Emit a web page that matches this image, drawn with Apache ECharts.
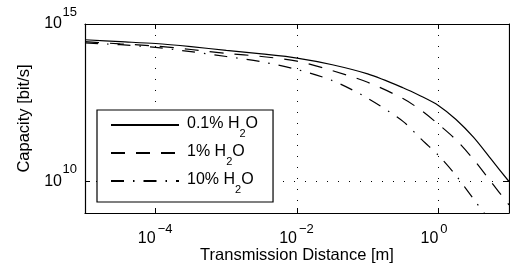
<!DOCTYPE html>
<html>
<head>
<meta charset="utf-8">
<title>Capacity vs transmission distance</title>
<script src="https://cdn.jsdelivr.net/npm/echarts@6/dist/echarts.min.js"></script>
<style>
  html, body { margin: 0; padding: 0; background: #fff; }
  #chart { width: 510px; height: 278px; }
</style>
</head>
<body>
<div id="chart"></div>
<script>
// transmission distance [m]
var distance = [1e-5, 3.16e-5, 1e-4, 3.16e-4, 1e-3, 3.16e-3, 1e-2, 3.16e-2, 1e-1, 3.16e-1, 0.562, 1, 1.78, 3.16, 5.62, 10];

// capacity [bit/s] for the three water vapour levels
var cap01 = [3.16e14, 2.75e14, 2.4e14, 1.91e14, 1.45e14, 1.12e14, 8.3e13, 5.1e13, 2.6e13, 9.5e12, 5.2e12, 2.6e12, 9.3e11, 2.5e11, 5.0e10, 1.0e10];
var cap1 = [2.75e14, 2.34e14, 2.0e14, 1.55e14, 1.17e14, 9.3e13, 6.6e13, 3.3e13, 1.41e13, 4.3e12, 1.86e12, 6.6e11, 2.1e11, 5.0e10, 9.5e9, 1.8e9];
var cap10 = [2.5e14, 2.2e14, 1.8e14, 1.32e14, 9.3e13, 6.3e13, 3.6e13, 1.6e13, 4.4e12, 8.1e11, 2.3e11, 6.8e10, 1.55e10, 2.75e9, 5.0e8, null];

var seriesNames = ['0.1%', '1%', '10%'];
var xTicks = [1e-4, 1e-2, 1];
var yTicks = [1e10, 1e15];

var FONT = 'Liberation Sans';

function pairs(ys) {
    var out = [];
    for (var i = 0; i < distance.length; i++) {
        out.push([distance[i], ys[i]]);
    }
    return out;
}

// tick labels are 10^n: the base and the exponent go on two stacked axes
function baseLabel() {
    return '10';
}
function expLabel(v) {
    var e = Math.round(Math.log10(v));
    return e < 0 ? '\u2212' + (-e) : '' + e;
}

var black = { color: '#000', width: 1.2 };
var dotted = { color: '#000', width: 1, type: [1, 10] };
var nameStyle = { fontSize: 16.5, fontFamily: FONT, color: '#000' };

// y max a hair above 1e15 so the 10^15 label is not dropped by rounding
var Y_MIN = 1e9, Y_MAX = 1.00001e15;

function logX(extra) {
    var a = {
        type: 'log', logBase: 10, min: 1e-5, max: 10,
        axisLine: { show: false, onZero: false, lineStyle: black },
        axisTick: { show: false },
        axisLabel: { show: false },
        minorTick: { show: false },
        splitLine: { show: false }
    };
    for (var k in extra) a[k] = extra[k];
    return a;
}
function logY(extra) {
    var a = {
        type: 'log', logBase: 10, min: Y_MIN, max: Y_MAX,
        axisLine: { show: false, onZero: false, lineStyle: black },
        axisTick: { show: false },
        axisLabel: { show: false },
        minorTick: { show: false },
        splitLine: { show: false }
    };
    for (var k in extra) a[k] = extra[k];
    return a;
}

var xAxes = [
    logX({
        position: 'bottom',
        axisLine: { show: true, onZero: false, lineStyle: black },
        axisTick: { show: true, inside: true, length: 5, customValues: xTicks, lineStyle: { color: '#000' } },
        axisLabel: { show: true, customValues: xTicks, formatter: baseLabel, align: 'right', margin: 18, fontSize: 16, fontFamily: FONT, color: '#000' },
        splitLine: { show: true, lineStyle: dotted },
        name: 'Transmission Distance [m]',
        nameLocation: 'middle',
        nameGap: 34,
        nameMoveOverlap: false,
        nameTextStyle: nameStyle
    }),
    logX({
        position: 'bottom',
        axisLabel: { show: true, customValues: xTicks, formatter: expLabel, align: 'left', padding: [0, 0, 0, 2], margin: 10, fontSize: 13, fontFamily: FONT, color: '#000' }
    }),
    logX({
        position: 'top',
        axisLine: { show: true, onZero: false, lineStyle: black },
        axisTick: { show: true, inside: true, length: 5, customValues: xTicks, lineStyle: { color: '#000' } }
    })
];

var yAxes = [
    logY({
        position: 'left',
        axisLine: { show: true, onZero: false, lineStyle: black },
        axisTick: { show: true, inside: true, length: 5, customValues: yTicks, lineStyle: { color: '#000' } },
        axisLabel: { show: true, customValues: yTicks, showMaxLabel: true, formatter: baseLabel, margin: 23, fontSize: 16, fontFamily: FONT, color: '#000' },
        splitLine: { show: true, lineStyle: dotted },
        name: 'Capacity [bit/s]',
        nameLocation: 'middle',
        nameGap: 52,
        nameMoveOverlap: false,
        nameTextStyle: nameStyle
    }),
    logY({
        position: 'left',
        axisLabel: { show: true, customValues: yTicks, showMaxLabel: true, formatter: expLabel, margin: 8, verticalAlign: 'bottom', lineHeight: 24, fontSize: 13, fontFamily: FONT, color: '#000' }
    }),
    logY({
        position: 'right',
        axisLine: { show: true, onZero: false, lineStyle: black },
        axisTick: { show: true, inside: true, length: 5, customValues: yTicks, lineStyle: { color: '#000' } }
    })
];

var lineTypes = ['solid', [14, 11], [13, 9, 1.5, 9]];
var capData = [cap01, cap1, cap10];

var series = [];
for (var k = 0; k < seriesNames.length; k++) {
    series.push({
        name: seriesNames[k],
        type: 'line',
        xAxisIndex: 0,
        yAxisIndex: 0,
        data: pairs(capData[k]),
        symbol: 'none',
        smooth: 0.3,
        clip: true,
        lineStyle: { color: '#000', width: 1.2, type: lineTypes[k] },
        itemStyle: { color: '#000' }
    });
}

var chart = echarts.init(document.getElementById('chart'), null, { renderer: 'canvas' });
chart.setOption({
    animation: false,
    backgroundColor: '#fff',
    grid: { left: 85, top: 20, width: 424, height: 193, containLabel: false },
    xAxis: xAxes,
    yAxis: yAxes,
    legend: {
        orient: 'vertical',
        left: 97,
        top: 110,
        itemWidth: 68,
        itemHeight: 14,
        itemGap: 5,
        padding: [6, 15, 7, 13],
        backgroundColor: '#fff',
        borderColor: '#000',
        borderWidth: 1.2,
        borderRadius: 0,
        selectedMode: false,
        itemStyle: { opacity: 0 },
        formatter: function (name) {
            return '{a|' + name + ' H}{s|2}{t|O}';
        },
        textStyle: {
            fontSize: 16,
            fontFamily: FONT,
            color: '#000',
            rich: {
                a: { fontSize: 16, fontFamily: FONT, color: '#000', lineHeight: 18, verticalAlign: 'top', padding: [0, 0, 0, 3] },
                t: { fontSize: 16, fontFamily: FONT, color: '#000', lineHeight: 18, verticalAlign: 'top' },
                s: { fontSize: 11, fontFamily: FONT, color: '#000', lineHeight: 11, verticalAlign: 'top', padding: [12, 0, 0, 0] }
            }
        },
        data: seriesNames
    },
    series: series
});
</script>
</body>
</html>
